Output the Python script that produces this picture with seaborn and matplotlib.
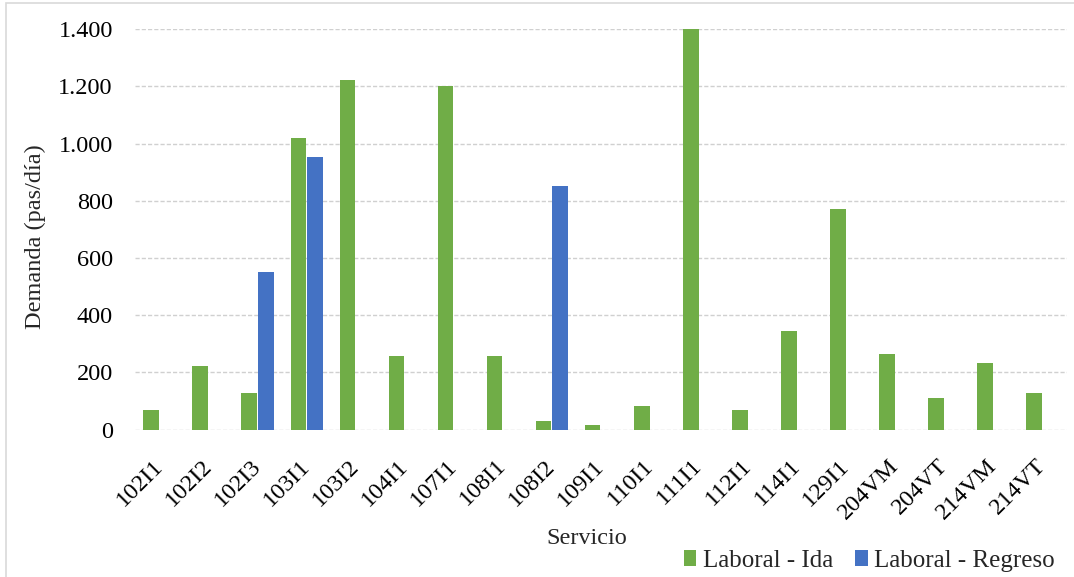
import matplotlib
matplotlib.use("Agg")
import matplotlib.pyplot as plt
import matplotlib.ticker as mticker
from matplotlib.patches import Rectangle, Patch
import numpy as np
import pandas as pd
import seaborn as sns

servicios = ["102I1", "102I2", "102I3", "103I1", "103I2", "104I1", "107I1", "108I1",
             "108I2", "109I1", "110I1", "111I1", "112I1", "114I1", "129I1", "204VM",
             "204VT", "214VM", "214VT"]
ida = [68, 223, 129, 1021, 1222, 256, 1200, 256, 28, 14, 81, 1400, 68, 346, 770, 264, 109, 231, 129]
regreso = [0, 0, 550, 955, 0, 0, 0, 0, 852, 0, 0, 0, 0, 0, 0, 0, 0, 0, 0]
series = ["Laboral - Ida", "Laboral - Regreso"]
colores = ["#70AD47", "#4472C4"]
y_ticks = [0, 200, 400, 600, 800, 1000, 1200, 1400]

df = pd.DataFrame({
    "Servicio": servicios * 2,
    "Demanda": ida + regreso,
    "Serie": [series[0]] * len(servicios) + [series[1]] * len(servicios),
})

sns.set_theme(style="white")
plt.rcParams["font.family"] = ["Liberation Serif", "DejaVu Serif"]

fig = plt.figure(figsize=(10.74, 5.77), dpi=100)
ax = fig.add_axes([135 / 1074, 1 - 429.5 / 577, (1067 - 135) / 1074, (429.5 - 29.3) / 577])

sns.barplot(data=df, x="Servicio", y="Demanda", hue="Serie", order=servicios,
            hue_order=series, palette=colores, width=0.68, gap=0.06,
            linewidth=0, saturation=1, ax=ax, legend=False)

ax.set_ylim(0, 1400)
ax.set_xlim(-0.5, len(servicios) - 0.5)
ax.set_yticks(y_ticks)
ax.yaxis.set_major_formatter(mticker.FuncFormatter(lambda v, p: f"{int(v):,}".replace(",", ".")))
ax.yaxis.grid(True, color="#D0D0D0", linestyle=(0, (3, 1.5)), linewidth=1.0)
ax.set_axisbelow(True)
for s in ax.spines.values():
    s.set_visible(False)
ax.tick_params(axis="y", length=0, labelsize=17.5, colors="#000000", pad=16)
ax.tick_params(axis="x", length=0, labelsize=17.5, colors="#000000", pad=24)
plt.setp(ax.get_xticklabels(), rotation=45, ha="right", va="center", rotation_mode="anchor")
ax.set_xlabel("Servicio", fontsize=17.5, va="center")
ax.xaxis.set_label_coords(0.485, -0.2736)
ax.set_ylabel("Demanda (pas/día)", fontsize=17.5, va="center")
ax.yaxis.set_label_coords(-0.107, 0.481)

handles = [Patch(facecolor=c, edgecolor="none") for c in colores]
fig.legend(handles, series, loc="lower right", bbox_to_anchor=(1.003, -0.03), ncol=2,
           frameon=False, fontsize=18, handlelength=0.5, handleheight=0.6,
           handletextpad=0.25, columnspacing=0.9)

fig.add_artist(Rectangle((6 / 1074, -0.1), 1.2, 1 - 2.5 / 577 + 0.1, transform=fig.transFigure,
                         fill=False, edgecolor="#D9D9D9", linewidth=1.2))

fig.savefig("out.png", dpi=100)
